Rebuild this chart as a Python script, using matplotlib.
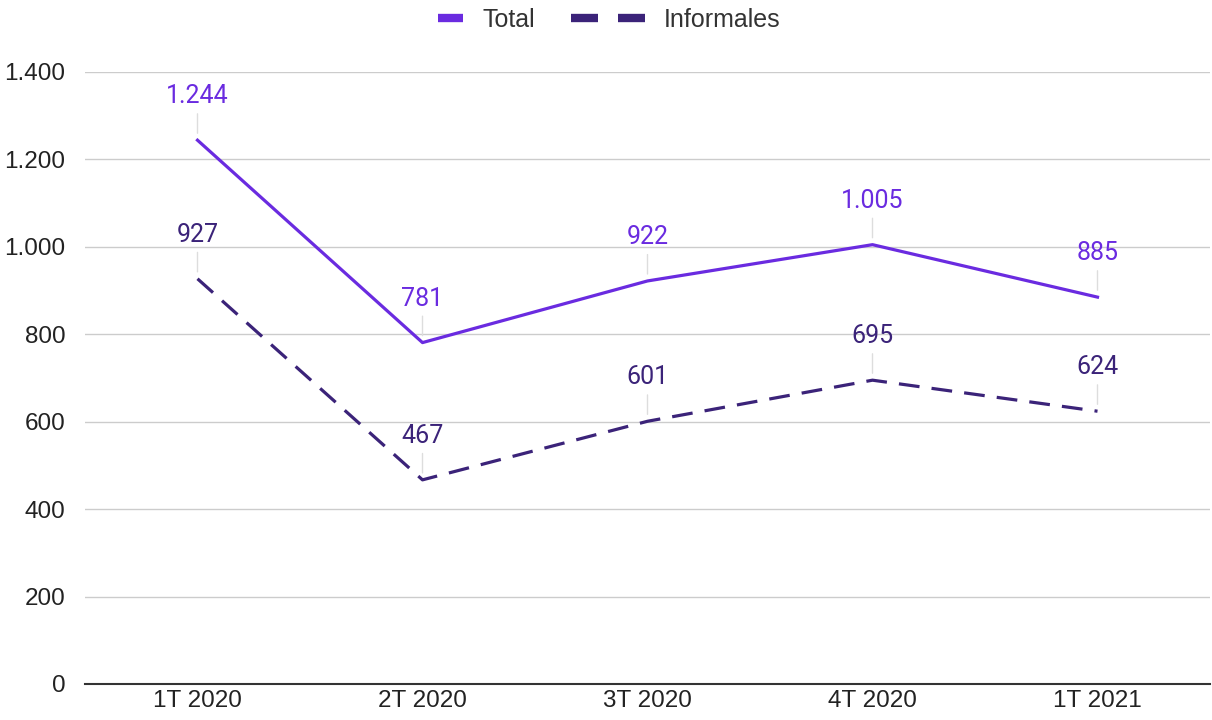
import matplotlib
matplotlib.use("Agg")
import matplotlib.pyplot as plt
from matplotlib.ticker import FuncFormatter
from matplotlib.legend_handler import HandlerBase
from matplotlib.lines import Line2D

quarters = ["1T 2020", "2T 2020", "3T 2020", "4T 2020", "1T 2021"]
total = [1244, 781, 922, 1005, 885]
informales = [927, 467, 601, 695, 624]

c_total = "#6a2be0"
c_inf = "#3b2379"


def fmt(v, pos=None):
    return f"{int(v):,}".replace(",", ".")


class BarHandler(HandlerBase):
    # legend key drawn as one or more short thick bars, right aligned in the box
    def __init__(self, nbars, bar_frac, gap_frac):
        super().__init__()
        self.nbars = nbars
        self.bar_frac = bar_frac
        self.gap_frac = gap_frac

    def create_artists(self, legend, orig_handle, xdescent, ydescent, width, height, fontsize, trans):
        y = height / 2 - ydescent
        bw = width * self.bar_frac
        gw = width * self.gap_frac
        arts = []
        x1 = width - xdescent
        for i in range(self.nbars):
            x0 = x1 - bw
            arts.append(Line2D([x0, x1], [y, y], color=orig_handle.get_color(), lw=6,
                               solid_capstyle="butt", transform=trans))
            x1 = x0 - gw
        return arts


fig = plt.figure(figsize=(12.12, 7.2), dpi=100)
ax = fig.add_axes([85 / 1212, 36 / 720, 1125 / 1212, 612 / 720])

x = range(len(quarters))
l_tot, = ax.plot(x, total, color=c_total, lw=2.3, label="Total")
l_inf, = ax.plot(x, informales, color=c_inf, lw=2.3, dashes=(6.5, 3.8), label="Informales")

for xs, ys, col in [(x, total, c_total), (x, informales, c_inf)]:
    for xi, yi in zip(xs, ys):
        ax.annotate(fmt(yi), xy=(xi, yi), xytext=(0, 23), textcoords="offset points",
                    ha="center", va="bottom", fontsize=18, color=col, family="Roboto",
                    arrowprops=dict(arrowstyle="-", color="#dddddd", lw=1,
                                    shrinkA=2, shrinkB=5))

ax.set_xlim(-0.5, len(quarters) - 0.5)
ax.set_ylim(0, 1400)
ax.set_yticks(range(0, 1401, 200))
ax.yaxis.set_major_formatter(FuncFormatter(fmt))
ax.set_xticks(list(x))
ax.set_xticklabels(quarters)
ax.grid(axis="y", color="#cccccc", lw=1)
ax.set_axisbelow(True)
for s in ["top", "right", "left"]:
    ax.spines[s].set_visible(False)
ax.spines["bottom"].set_color("#333333")
ax.spines["bottom"].set_linewidth(1.5)
ax.tick_params(axis="both", length=0, labelsize=17.5, labelcolor="#222222",
               labelfontfamily="Liberation Sans")
ax.tick_params(axis="y", pad=14)
ax.tick_params(axis="x", pad=4)

leg = fig.legend([l_tot, l_inf], ["Total", "Informales"], loc="center",
                 bbox_to_anchor=(0.5 - 21 / 1212, 1 - 20 / 720), ncol=2, frameon=False,
                 prop={"family": "Liberation Sans", "size": 18}, handlelength=2.96,
                 columnspacing=1.44, handletextpad=0.76, borderpad=0,
                 handler_map={l_tot: BarHandler(1, 0.34, 0),
                              l_inf: BarHandler(2, 0.36, 0.28)})
for t in leg.get_texts():
    t.set_color("#333333")

fig.savefig("out.png", dpi=100)
